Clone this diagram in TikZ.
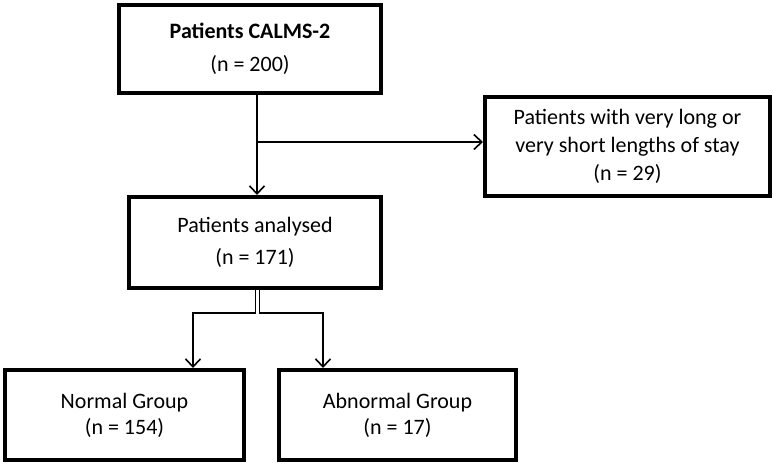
\documentclass[tikz,border=0pt]{standalone}
\usepackage{fontspec}
\setmainfont{Carlito}
\usetikzlibrary{arrows.meta}
\begin{document}
\begin{tikzpicture}[x=1pt,y=-1pt,
  box/.style={draw=black,line width=4pt,rectangle,inner sep=0pt,align=center,fill=white},
  conn/.style={draw=black,line width=1.6pt},
  arr/.style={conn,-{Straight Barb[length=8pt,width=15pt,line width=1.6pt]}}]
\useasboundingbox[fill=white] (0,0) rectangle (774,464);
\node[box,minimum width=262pt,minimum height=88pt,font=\fontsize{22}{33}\selectfont] (b1) at (250,49) {\textbf{Patients CALMS-2}\\(n = 200)};
\node[box,minimum width=285pt,minimum height=99pt,font=\fontsize{22}{28}\selectfont] (b2) at (627.5,146.5) {Patients with very long or\\very short lengths of stay\\(n = 29)};
\node[box,minimum width=252pt,minimum height=91pt,font=\fontsize{22}{32}\selectfont] (b3) at (255,242.5) {Patients analysed\\(n = 171)};
\node[box,minimum width=239pt,minimum height=90pt,font=\fontsize{22}{26}\selectfont] (b4) at (124.5,415) {Normal Group\\(n = 154)};
\node[box,minimum width=237pt,minimum height=90pt,font=\fontsize{22}{26}\selectfont] (b5) at (397.5,415) {Abnormal Group\\(n = 17)};
\coordinate (j) at (257,142);
\draw[arr] (b1.south -| j) -- (b3.north -| j);
\draw[arr] (j) -- (b2.west |- j);
\draw[arr] (255.5,290) -- (255.5,313) -| (b4.north -| 193,0);
\draw[arr] (259.5,290) -- (259.5,313) -| (b5.north -| 323,0);
\end{tikzpicture}
\end{document}
